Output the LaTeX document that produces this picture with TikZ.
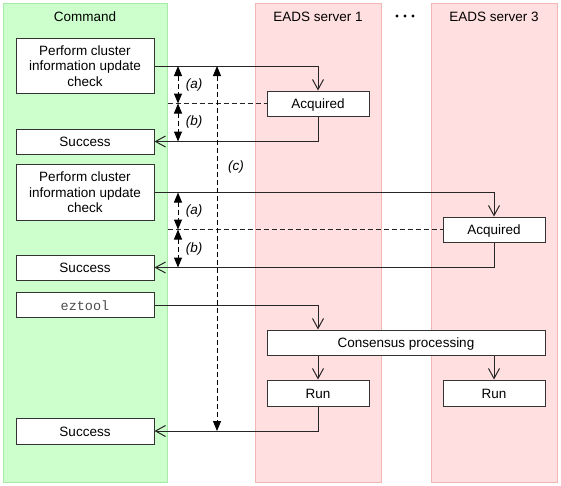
\documentclass[tikz,border=0pt]{standalone}
\usepackage{fontspec}
\setmainfont{Liberation Sans}
\setmonofont{Liberation Mono}
\usetikzlibrary{arrows.meta, positioning}
\definecolor{cmdfill}{HTML}{CCFFCC}
\definecolor{cmdline}{HTML}{A8EBA8}
\definecolor{srvfill}{HTML}{FFDFDF}
\definecolor{srvline}{HTML}{F2B6B6}
\tikzset{
	every node/.style={font=\fontsize{13.5}{15.5}\selectfont}, % one text size everywhere
	lane/.style={draw, line width=1pt, minimum height=479pt, inner sep=0pt}, % the three columns
	cmdlane/.style={lane, draw=cmdline, fill=cmdfill, minimum width=164pt},
	srvlane/.style={lane, draw=srvline, fill=srvfill, minimum width=126pt},
	box/.style={draw=black!80, fill=white, line width=1pt, minimum height=25pt, inner sep=0pt, align=center},
	oneline/.style={text height=11.5pt, text depth=1.5pt}, % sits the single line a little lower
	cmdbox/.style={box, minimum width=138pt},
	srvbox/.style={box, oneline, minimum width=102pt},
	msg/.style={-{Straight Barb[length=10pt,width=11pt]}, line width=1pt, draw=black!85}, % open arrow heads
	span/.style={{Triangle[length=10pt,width=8pt]}-{Triangle[length=10pt,width=8pt]}, line width=1pt, dash pattern=on 5pt off 3pt},
	guide/.style={line width=1pt, dash pattern=on 5pt off 3pt, draw=black!85},
	lbl/.style={font=\fontsize{13.5}{15.5}\selectfont\itshape},
}
\begin{document}
\begin{tikzpicture}[x=1pt, y=-1pt]
	\useasboundingbox (0,0) rectangle (561,485);
	% the columns and their titles
	\node[cmdlane] (Command) at (85,242.5) {};
	\node[srvlane] (Server1) at (318,242.5) {};
	\node[srvlane] (Server3) at (494,242.5) {};
	\node (CommandTitle) at (85,16.5) {Command};
	\node (Server1Title) at (318,16.5) {EADS server 1};
	\node (Server3Title) at (494,16.5) {EADS server 3};
	\fill (397,16) circle (1.7pt) (405,16) circle (1.7pt) (413,16) circle (1.7pt);

	% first check, answered by server 1
	\node[cmdbox, minimum height=55pt] (Perform1) at (85,66) {Perform cluster\\information update\\check};
	\node[srvbox] (Acquired1) at (318,103.5) {Acquired};
	\node[cmdbox, oneline] (Success1) at (85,141.5) {Success};
	\draw[msg] (Perform1.east) -| (Acquired1.north);
	\draw[msg] (Acquired1.south) |- (Success1.east);
	\draw[guide] (Command.east |- Acquired1.west) -- (Acquired1.west);

	% second check, answered by server 3
	\node[cmdbox, minimum height=56pt] (Perform2) at (85,192.5) {Perform cluster\\information update\\check};
	\node[srvbox] (Acquired2) at (494,229.5) {Acquired};
	\node[cmdbox, oneline] (Success2) at (85,267.5) {Success};
	\draw[msg] (Perform2.east) -| (Acquired2.north);
	\draw[msg] (Acquired2.south) |- (Success2.east);
	\draw[guide] (Command.east |- Acquired2.west) -- (Acquired2.west);

	%% the command itself
	\node[cmdbox, oneline] (Eztool) at (85,305) {\color{black!70}\ttfamily eztool};
	\node[box, oneline, minimum width=278pt] (Consensus) at (406,342.5) {Consensus processing};
	\node[srvbox, minimum height=26pt] (Run1) at (318,393) {Run};
	\node[srvbox, minimum height=26pt] (Run3) at (494,393) {Run};
	\node[cmdbox, oneline, minimum height=26pt] (Success3) at (85,431) {Success};
	\draw[msg] (Eztool.east) -| (Run1.north |- Consensus.north);
	\draw[msg] (Run1.north |- Consensus.south) -- (Run1.north);
	\draw[msg] (Run3.north |- Consensus.south) -- (Run3.north);
	\draw[msg] (Run1.south) |- (Success3.east);

	%% the time spans
	\coordinate (TickAB) at (178,0);
	\coordinate (TickC) at (217,0);
	\draw[span] (TickAB |- Perform1.east) -- node[lbl, right=4pt]{(a)} (TickAB |- Acquired1.west);
	\draw[span] (TickAB |- Acquired1.west) -- node[lbl, right=4pt]{(b)} (TickAB |- Success1.east);
	\draw[span] (TickAB |- Perform2.east) -- node[lbl, right=4pt]{(a)} (TickAB |- Acquired2.west);
	\draw[span] (TickAB |- Acquired2.west) -- node[lbl, right=4pt]{(b)} (TickAB |- Success2.east);
	\draw[span] (TickC |- Perform1.east) -- (TickC |- Success3.east);
	\node[lbl] (SpanC) at (236,167) {(c)};
\end{tikzpicture}
\end{document}
